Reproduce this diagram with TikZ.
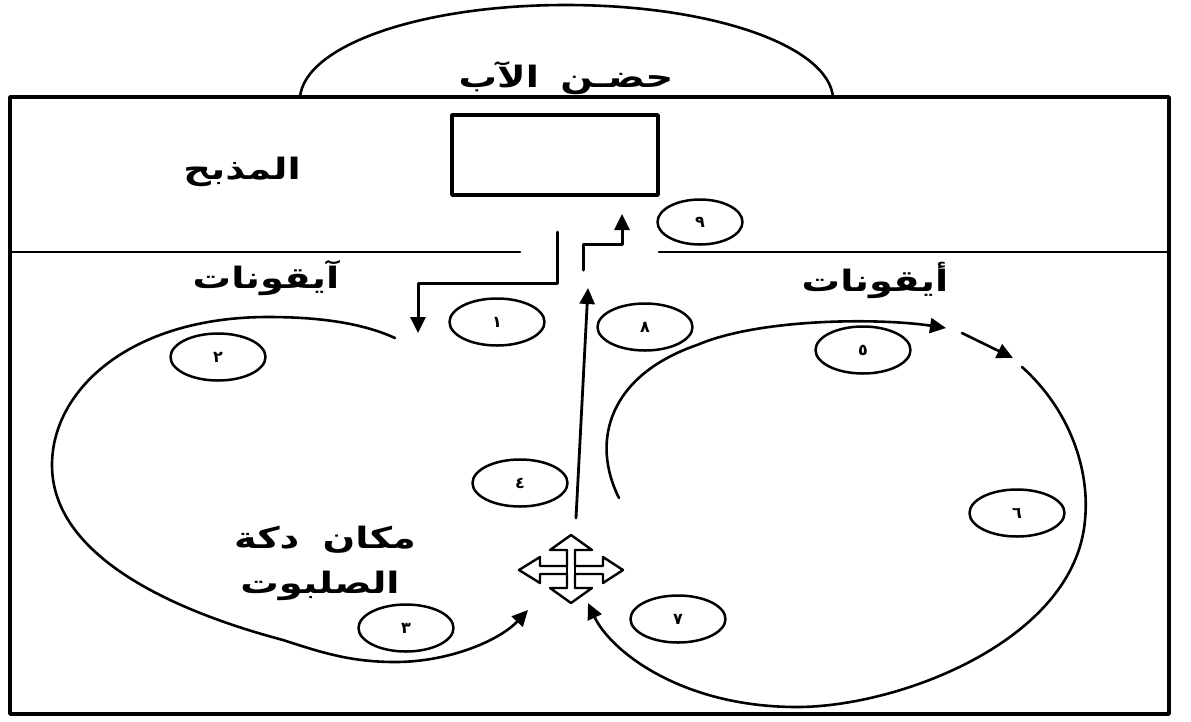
\documentclass[tikz,border=0pt]{standalone}
\usepackage{fontspec}
\newfontfamily\arfont[Script=Arabic]{DejaVu Sans}
\newfontfamily\arwide[Script=Arabic,FakeStretch=1.3]{DejaVu Sans}
\TeXXeTstate=1
\usetikzlibrary{shapes.geometric,arrows.meta}
\begin{document}
\begin{tikzpicture}[x=1pt,y=-1pt,line cap=round,line join=round,
  num/.style={ellipse,draw,line width=2.5pt,minimum width=95pt,minimum height=47pt,inner sep=0pt,
    font=\arfont\bfseries\fontsize{16}{16}\selectfont},
  lbl/.style={inner sep=0pt,font=\arwide\bfseries\fontsize{29.5}{36}\selectfont},
  curve/.style={line width=2.6pt},
  frame/.style={line width=3.6pt},
  arr/.style={-{Triangle[length=16pt,width=15pt]}},
]
\useasboundingbox (0,0) rectangle (1191,721);
% frame and dome
\draw[frame] (10,97) rectangle (1169,714);
\coordinate (d1) at (300,97);
\coordinate (d2) at (833,97);
\draw[curve] (d1) .. controls (305,46) and (419,5) .. (566,5) .. controls (713,5) and (828,46) .. (d2);
% dividers
\coordinate (hl1) at (10,252); \coordinate (hl2) at (520,252);
\coordinate (hr1) at (659,252); \coordinate (hr2) at (1169,252);
\draw[line width=2.8pt] (hl1) -- (hl2);
\draw[line width=2.8pt] (hr1) -- (hr2);
% altar
\node[draw,frame,minimum width=206pt,minimum height=80pt,inner sep=0pt] (altar) at (555,155) {};
% labels
\node[lbl] (title) at (566,78) {\beginR حضـن\hspace{8pt} الآب\endR};
\node[lbl] (madhbah) at (242,172) {\beginR المذبح\endR};
\node[lbl] (iconL) at (266,278) {\beginR آيقونات\endR};
\node[lbl] (iconR) at (875,280) {\beginR أيقونات\endR};
\node[lbl] (dakka1) at (325,540) {\beginR مكان\hspace{10pt} دكة\endR};
\node[lbl] (dakka2) at (320,586) {\beginR الصلبوت\endR};
% numbered ellipses
\node[num] (n1) at (497,322) {١};
\node[num] (n2) at (218,357) {٢};
\node[num] (n3) at (406,628) {٣};
\node[num] (n4) at (520,483) {٤};
\node[num] (n5) at (863,350) {٥};
\node[num] (n6) at (1017,513) {٦};
\node[num] (n7) at (678,619) {٧};
\node[num] (n8) at (645,327) {٨};
\node[num,minimum width=85pt,minimum height=45pt] (n9) at (700,222) {٩};
% entrance arrows
\coordinate (a1s) at (557,232); \coordinate (a1e) at (418,333);
\draw[line width=3pt,arr] (a1s) -- (557,283) -- (418,283) -- (a1e);
\coordinate (a9s) at (583,270); \coordinate (a9e) at (622,214);
\draw[line width=3pt,arr] (a9s) -- (583,244) -- (622,244) -- (a9e);
\coordinate (a8s) at (576,518); \coordinate (a8e) at (588,288);
\draw[line width=2.8pt,arr] (a8s) -- (a8e);
% cross symbol
\coordinate (cross) at (571,570);
\draw[line width=2.4pt,fill=white]
 (571,535) -- (592,550) -- (575,550) -- (575,566) -- (603,566) -- (603,557) -- (623,570)
 -- (603,583) -- (603,574) -- (575,574) -- (575,588) -- (592,588) -- (571,603)
 -- (550,588) -- (567,588) -- (567,574) -- (540,574) -- (540,583) -- (519,570)
 -- (540,557) -- (540,566) -- (567,566) -- (567,550) -- (550,550) -- cycle;
\draw[line width=2.4pt] (567,550) -- (567,588) (575,550) -- (575,588);
% left loop
\coordinate (Ls) at (395,338); \coordinate (Le) at (528,610);
\draw[curve,arr] (Ls) .. controls (360,322) and (315,317) .. (268,317)
  .. controls (130,317) and (52,390) .. (52,465)
  .. controls (52,555) and (170,610) .. (283,640)
  .. controls (320,652) and (350,662) .. (395,662)
  .. controls (450,662) and (500,640) .. (Le);
% right loop
\coordinate (Rs) at (619,498); \coordinate (Re) at (946,328);
\draw[curve,arr] (Rs) .. controls (590,440) and (610,375) .. (697,345)
  .. controls (760,318) and (880,318) .. (Re);
\coordinate (Ss) at (962,333); \coordinate (Se) at (1013,358);
\draw[curve,arr] (Ss) -- (Se);
\coordinate (Ts) at (1022,367); \coordinate (Te) at (588,603);
\draw[curve,arr] (Ts) .. controls (1070,410) and (1090,470) .. (1085,520)
  .. controls (1075,640) and (900,707) .. (797,707)
  .. controls (680,707) and (610,650) .. (Te);
\end{tikzpicture}
\end{document}
